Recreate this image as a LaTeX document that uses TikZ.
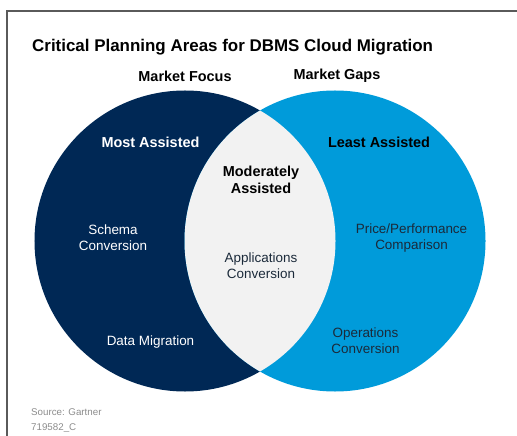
\documentclass[tikz,border=0pt]{standalone}
\usepackage{fontspec}
\setmainfont{Liberation Sans}
\usetikzlibrary{positioning}
\definecolor{gnavy}{HTML}{002855}
\definecolor{gblue}{HTML}{009BDA}
\definecolor{glens}{HTML}{F2F2F2}
\definecolor{gtext}{HTML}{1B2A3A}
\definecolor{gsource}{HTML}{8C8C8C}
\definecolor{gframe}{HTML}{5A5A5A}
\tikzset
{
    areacircle/.style = {circle, minimum size=301bp, inner sep=0pt},
    heading/.style    = {font=\bfseries\fontsize{14.5}{17}\selectfont, align=center, inner sep=0pt},
    item/.style       = {font=\fontsize{13.5}{16}\selectfont, align=center, text=gtext, inner sep=0pt},
    footnote/.style   = {font=\fontsize{9.8}{12}\selectfont, text=gsource, anchor=west, inner sep=0pt}
}

\begin{document}
\begin{tikzpicture}[x=1bp, y=-1bp]
\newcommand\XL{185}
\newcommand\XR{335}
\newcommand\YC{241}
\useasboundingbox (0,0) rectangle (517,436);
\draw[gframe, line width=1.4bp] (7,436) -- (7,11) -- (517,11);

%% circles
\node (focus) [areacircle, fill=gnavy] at (\XL,\YC) {};
\node (gaps)  [areacircle, fill=gblue] at (\XR,\YC) {};
\begin{scope}
\clip (focus.center) circle (150.5);
\fill[glens] (gaps.center) circle (150.5);
\end{scope}

%% titles
\node (title) [heading, font=\bfseries\fontsize{17}{20}\selectfont, anchor=west] at (32,47) {Critical Planning Areas for DBMS Cloud Migration};
\node (focuslbl) [heading] at (\XL,76) {Market Focus};
\node (gapslbl)  [heading] at (\XR+2,76) {Market Gaps};

%% areas
\node (most)     [heading, text=white] at (150.5,142) {Most Assisted};
\node (moderate) [heading] at (261,179.5) {Moderately\\Assisted};
\node (least)    [heading] at (379,142) {Least Assisted};

\node (schema) [item, text=white] at (113,238) {Schema\\Conversion};
\node (datamig) [item, text=white] at (150.5,342) {Data Migration};
\node (apps) [item] at (261,265.5) {Applications\\Conversion};
\node (price) [item] at (411.5,238) {Price/Performance\\Comparison};
\node (ops) [item] at (365.5,341) {Operations\\Conversion};

%% source
\node (source) [footnote] at (31,412) {Source: Gartner};
\node (docid)  [footnote] at (31,428) {719582\_C};
\end{tikzpicture}
\end{document}
